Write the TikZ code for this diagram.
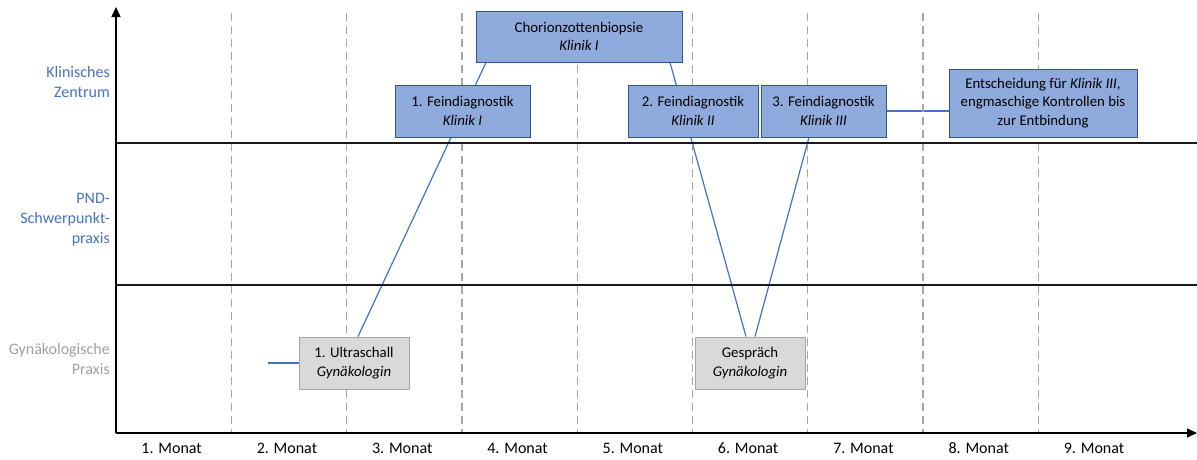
\documentclass[tikz,border=0pt]{standalone}
\usepackage{fontspec}
\setmainfont{Carlito}
\usetikzlibrary{arrows.meta,calc,backgrounds}

\definecolor{laneblue}{HTML}{4472C4}
\definecolor{lanegray}{HTML}{A0A0A0}
\definecolor{boxblue}{HTML}{8FAADC}
\definecolor{boxblueedge}{HTML}{2F5597}
\definecolor{boxgray}{HTML}{D9D9D9}
\definecolor{boxgrayedge}{HTML}{A5A5A5}
\definecolor{gridgray}{HTML}{A6A6A6}
\definecolor{linkblue}{HTML}{4472C4}

\tikzset{
  txt/.style={font=\fontsize{14.8}{18.5}\selectfont, align=center, inner sep=0pt},
  clinic/.style={txt, draw=boxblueedge, fill=boxblue, line width=0.9pt},
  practice/.style={txt, draw=boxgrayedge, fill=boxgray, line width=0.9pt},
  lanelabel/.style={font=\fontsize{16}{20}\selectfont, align=right, anchor=east, inner sep=0pt},
  month/.style={font=\fontsize{16}{18}\selectfont, inner sep=0pt},
  axis/.style={line width=1.5pt, black, -{Triangle[length=10pt,width=9pt]}},
  laneline/.style={line width=1.8pt, black!90},
  monthgrid/.style={gridgray, line width=1.3pt, dash pattern=on 8pt off 5pt},
  link/.style={linkblue, line width=1.2pt}
}

\begin{document}
\begin{tikzpicture}[x=1pt,y=-1pt]
\useasboundingbox (0,0) rectangle (1197,459);

% month separators
\foreach \k in {1,...,8}
  \draw[monthgrid] ({116+115.3*\k},13) -- ({116+115.3*\k},433);

% lane boundaries
\draw[laneline] (116,143) -- (1197,143);
\draw[laneline] (116,285) -- (1197,285);

% axes
\draw[axis] (116,433) -- (116,7);
\draw[axis] (116,433) -- (1197,433);

% month labels
\foreach \k in {1,...,9}
  \node[month] (m\k) at ({116+115.3*(\k-0.5)-2},448) {\k. Monat};

% lane labels
\node[lanelabel, text=laneblue] (laneK) at (110,82) {Klinisches\\Zentrum};
\node[lanelabel, text=laneblue] (laneP) at (110,220) {PND-\\Schwerpunkt-\\praxis};
\node[lanelabel, text=lanegray] (laneG) at (110,359) {Gynäkologische\\Praxis};

% events
\node[clinic, minimum width=206pt, minimum height=51pt] (chor) at (579,36.5)
  {Chorionzottenbiopsie\\\textit{Klinik I}};
\node[clinic, minimum width=135pt, minimum height=52pt] (f1) at (462.5,111)
  {1. Feindiagnostik\\\textit{Klinik I}};
\node[clinic, minimum width=130pt, minimum height=52pt] (f2) at (693,111)
  {2. Feindiagnostik\\\textit{Klinik II}};
\node[clinic, minimum width=125pt, minimum height=52pt] (f3) at (823.5,111)
  {3. Feindiagnostik\\\textit{Klinik III}};
\node[clinic, minimum width=188pt, minimum height=68pt] (ent) at (1043,103)
  {Entscheidung für \textit{Klinik III},\\engmaschige Kontrollen bis\\zur Entbindung};
\node[practice, minimum width=110pt, minimum height=52pt] (us) at (354,363)
  {1. Ultraschall\\\textit{Gynäkologin}};
\node[practice, minimum width=110pt, minimum height=52pt] (gs) at (750,363)
  {Gespräch\\\textit{Gynäkologin}};

\coordinate (start) at (268,363);

% connections, drawn behind the boxes
\begin{scope}[on background layer]
  \draw[link] (start) -- (us.west);
  \draw[link] ($(us.north)+(4,0)$) -- ($(chor.south)+(-93,0)$);
  \draw[link] ($(chor.south)+(91,0)$) -- ($(gs.north)+(-4,0)$);
  \draw[link] ($(gs.north)+(5,0)$) -- ($(f3.south)+(-14.5,0)$);
  \draw[link] (f3.east) -- (f3.east -| ent.west);
\end{scope}
\end{tikzpicture}
\end{document}
